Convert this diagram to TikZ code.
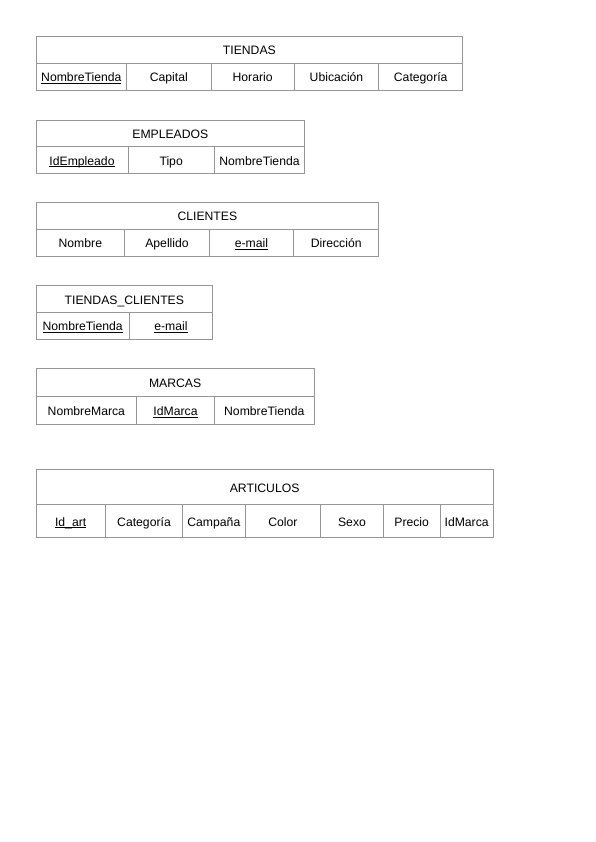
\documentclass[tikz,border=0pt]{standalone}
\usepackage{fontspec}
\setmainfont{Liberation Sans}
\usetikzlibrary{positioning}

\definecolor{borde}{RGB}{150,150,150}
% clave primaria subrayada
\newcommand{\clave}[1]{\setbox0\hbox{#1}\rlap{\rule[-1.6pt]{\wd0}{0.6pt}}\box0}

\begin{document}
\begin{tikzpicture}[x=1pt, y=-1pt,
    celda/.style={draw=borde, line width=0.8pt},
    every node/.style={font=\fontsize{12.2}{14}\selectfont, text height=11pt, text depth=0.5pt, inner sep=0pt}]
\useasboundingbox (0,0) rectangle (595,842);

% TIENDAS
\draw[celda] (36,36) rectangle (462.7,63.3) node[midway] (tiendas) {TIENDAS};
\draw[celda] (36,63.3) rectangle (126.7,90) node[midway] (tNombre) {\clave{NombreTienda}};
\draw[celda] (126.7,63.3) rectangle (211,90) node[midway] (tCapital) {Capital};
\draw[celda] (211,63.3) rectangle (294.3,90) node[midway] (tHorario) {Horario};
\draw[celda] (294.3,63.3) rectangle (378.7,90) node[midway] (tUbicacion) {Ubicación};
\draw[celda] (378.7,63.3) rectangle (462.7,90) node[midway] (tCategoria) {Categoría};

% EMPLEADOS
\draw[celda] (36,120) rectangle (304.7,146.7) node[midway] (empleados) {EMPLEADOS};
\draw[celda] (36,146.7) rectangle (128,173.3) node[midway] (eId) {\clave{IdEmpleado}};
\draw[celda] (128,146.7) rectangle (214.3,173.3) node[midway] (eTipo) {Tipo};
\draw[celda] (214.3,146.7) rectangle (304.7,173.3) node[midway] (eTienda) {NombreTienda};

% CLIENTES
\draw[celda] (36,202.3) rectangle (378.7,229) node[midway] (clientes) {CLIENTES};
\draw[celda] (36,229) rectangle (124.7,256) node[midway] (cNombre) {Nombre};
\draw[celda] (124.7,229) rectangle (209.3,256) node[midway] (cApellido) {Apellido};
\draw[celda] (209.3,229) rectangle (293.7,256) node[midway] (cEmail) {\clave{e-mail}};
\draw[celda] (293.7,229) rectangle (378.7,256) node[midway] (cDireccion) {Dirección};

% TIENDAS_CLIENTES
\draw[celda] (36,285.7) rectangle (212.7,312.3) node[midway] (tiendasClientes) {TIENDAS\_CLIENTES};
\draw[celda] (36,312.3) rectangle (129.3,339) node[midway] (tcTienda) {\clave{NombreTienda}};
\draw[celda] (129.3,312.3) rectangle (212.7,339) node[midway] (tcEmail) {\clave{e-mail}};

% MARCAS
\draw[celda] (36,368.7) rectangle (314.3,396.7) node[midway] (marcas) {MARCAS};
\draw[celda] (36,396.7) rectangle (136.7,424.3) node[midway] (mNombre) {NombreMarca};
\draw[celda] (136.7,396.7) rectangle (214.3,424.3) node[midway] (mId) {\clave{IdMarca}};
\draw[celda] (214.3,396.7) rectangle (314.3,424.3) node[midway] (mTienda) {NombreTienda};

% ARTICULOS
\draw[celda] (36,469.3) rectangle (493.3,504.3) node[midway] (articulos) {ARTICULOS};
\draw[celda] (36,504.3) rectangle (105.3,537.7) node[midway] (aId) {\clave{Id\_art}};
\draw[celda] (105.3,504.3) rectangle (182.7,537.7) node[midway] (aCategoria) {Categoría};
\draw[celda] (182.7,504.3) rectangle (245,537.7) node[midway] (aCampana) {Campaña};
\draw[celda] (245,504.3) rectangle (320.7,537.7) node[midway] (aColor) {Color};
\draw[celda] (320.7,504.3) rectangle (383.3,537.7) node[midway] (aSexo) {Sexo};
\draw[celda] (383.3,504.3) rectangle (440,537.7) node[midway] (aPrecio) {Precio};
\draw[celda] (440,504.3) rectangle (493.3,537.7) node[midway] (aMarca) {IdMarca};

\end{tikzpicture}
\end{document}
